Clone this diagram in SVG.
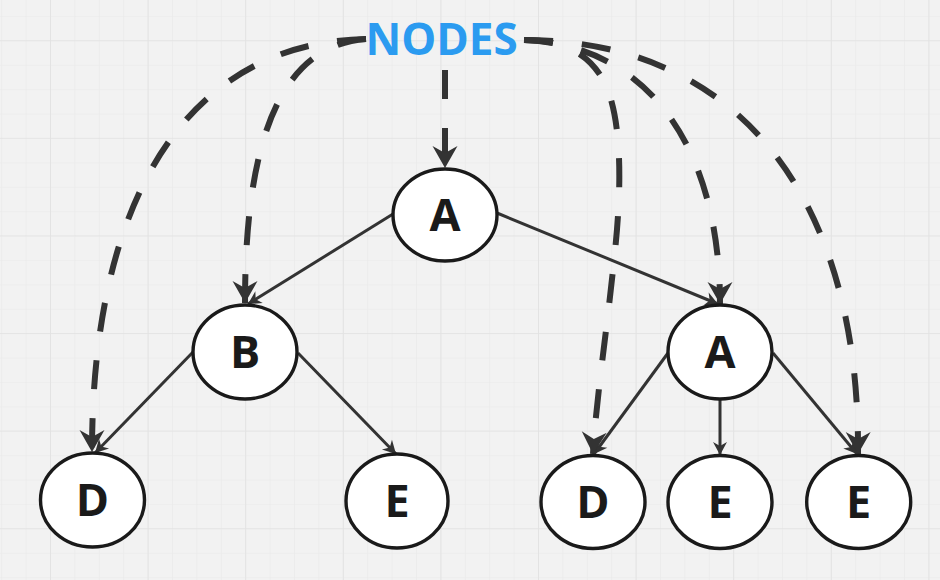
<svg xmlns="http://www.w3.org/2000/svg" width="940" height="580" viewBox="0 0 940 580">
  <defs>
    <!-- whiteboard grid: fine lines every 24.4px, stronger lines every 97.6px -->
    <pattern id="gridMinor" width="24.4" height="24.4" patternUnits="userSpaceOnUse" x="1.2" y="16">
      <path d="M0,0 H24.4 M0,0 V24.4" fill="none" stroke="#e9e9e9" stroke-width="1.2"/>
    </pattern>
    <pattern id="gridMajor" width="97.6" height="97.6" patternUnits="userSpaceOnUse" x="50" y="40.2">
      <path d="M0,0 H97.6 M0,0 V97.6" fill="none" stroke="#e2e2e2" stroke-width="1.6"/>
    </pattern>
    <marker id="headBig" markerUnits="userSpaceOnUse" orient="auto" refX="0" refY="0" markerWidth="1" markerHeight="1" overflow="visible">
      <path d="M0,0 L-22,-12.5 L-15,0 L-22,12.5 Z" fill="#333"/>
    </marker>
    <marker id="headSmall" markerUnits="userSpaceOnUse" orient="auto" refX="0" refY="0" markerWidth="1" markerHeight="1" overflow="visible">
      <path d="M0,0 L-13,-7 L-9,0 L-13,7 Z" fill="#333"/>
    </marker>
    <style>
      .node ellipse { fill: #ffffff; stroke: #1a1a1a; stroke-width: 3.4; }
      .node text { font-family: "Open Sans", "Liberation Sans", sans-serif; font-weight: 700; font-size: 45px; fill: #1a1a1a; text-anchor: middle; }
      .label text { font-family: "Open Sans", "Liberation Sans", sans-serif; font-weight: 700; font-size: 44px; fill: #2b9bf0; text-anchor: middle; }
      .edge { fill: none; stroke: #333; stroke-width: 3; marker-end: url(#headSmall); }
      .ref { fill: none; stroke: #333; stroke-width: 6; stroke-dasharray: 29 29; marker-end: url(#headBig); }
    </style>
  </defs>

  <rect width="940" height="580" fill="#f2f2f2"/>
  <rect width="940" height="580" fill="url(#gridMinor)"/>
  <rect width="940" height="580" fill="url(#gridMajor)"/>

  <g id="connectors">
    <!-- tree edges -->
    <line class="edge" x1="393" y1="214" x2="248" y2="304"/>
    <line class="edge" x1="497" y1="213" x2="718" y2="304"/>
    <line class="edge" x1="194" y1="351" x2="95" y2="453"/>
    <line class="edge" x1="298" y1="353" x2="396" y2="454"/>
    <line class="edge" x1="668" y1="353" x2="594" y2="454"/>
    <line class="edge" x1="720" y1="399" x2="720" y2="455"/>
    <line class="edge" x1="773" y1="353" x2="857" y2="454"/>
    <!-- dashed references from the NODES label -->
    <path class="ref" d="M445,70 L445,168"/>
    <path class="ref" d="M366,39 C200,42 92,180 92,452"/>
    <path class="ref" d="M366,39 C290,45 245,120 245,303"/>
    <path class="ref" d="M524,40 C555,40 590,48 607,88 C622,125 622,190 614,260 C607,330 596,400 593,454"/>
    <path class="ref" d="M524,40 C650,45 720,150 720,304"/>
    <path class="ref" d="M524,40 C740,40 860,200 858,454"/>
  </g>

  <g id="nodes-label" class="label">
    <text x="441.5" y="55">NODES</text>
  </g>

  <g id="node-a-root" class="node">
    <ellipse cx="445" cy="215" rx="52" ry="46"/>
    <text x="445" y="231">A</text>
  </g>
  <g id="node-b" class="node">
    <ellipse cx="245" cy="352" rx="52" ry="47"/>
    <text x="245" y="368">B</text>
  </g>
  <g id="node-a-child" class="node">
    <ellipse cx="720" cy="352" rx="52" ry="47"/>
    <text x="720" y="368">A</text>
  </g>
  <g id="node-d-left" class="node">
    <ellipse cx="92.5" cy="500" rx="52" ry="47"/>
    <text x="92.5" y="516">D</text>
  </g>
  <g id="node-e-left" class="node">
    <ellipse cx="397" cy="501" rx="51" ry="47"/>
    <text x="397" y="517">E</text>
  </g>
  <g id="node-d-right" class="node">
    <ellipse cx="593" cy="502" rx="52" ry="46.5"/>
    <text x="593" y="518">D</text>
  </g>
  <g id="node-e-mid" class="node">
    <ellipse cx="720" cy="502" rx="52" ry="46.5"/>
    <text x="720" y="518">E</text>
  </g>
  <g id="node-e-right" class="node">
    <ellipse cx="858.7" cy="502" rx="52" ry="46.5"/>
    <text x="858.7" y="518">E</text>
  </g>
</svg>
